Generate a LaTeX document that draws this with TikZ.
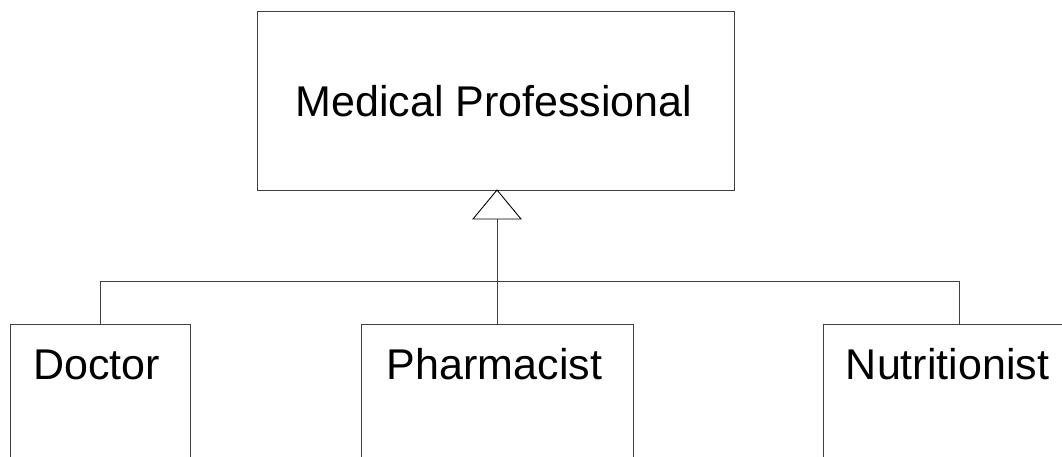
\documentclass[tikz,border=0pt]{standalone}
\usepackage{fontspec}
\setmainfont{Liberation Sans}
\begin{document}
\begin{tikzpicture}[x=1pt,y=-1pt,
  cls/.style={draw=black!75, line width=1pt, inner sep=0pt, anchor=north},
  lbl/.style={font=\fontsize{43}{50}\selectfont, inner sep=0pt, anchor=base},
  link/.style={draw=black!75, line width=1pt},
  gen/.style={draw=black, line width=0.9pt, fill=white, line join=miter}]
\useasboundingbox (0,0) rectangle (1062,457);
\clip (0,0) rectangle (1062,457);

% superclass
\node[cls, minimum width=477pt, minimum height=179pt] (mp) at (495.5,11) {};
\node[lbl] (mptext) at (494,117) {Medical Professional};

% subclasses (their lower parts run past the page)
\node[cls, minimum width=180pt, minimum height=200pt] (doctor) at (100,324) {};
\node[cls, minimum width=272pt, minimum height=200pt] (pharm) at (497,324) {};
\node[cls, minimum width=272pt, minimum height=200pt] (nutri) at (959,324) {};
\node[lbl] (doctortext) at (96.5,379) {Doctor};
\node[lbl] (pharmtext) at (494.5,379) {Pharmacist};
\node[lbl] (nutritext) at (947.5,379) {Nutritionist};

% generalization: shared bus and hollow triangle
\coordinate (apex) at (497,190);
\coordinate (tbase) at (497,219);
\draw[link] (doctor.north) -- ++(0,-43) -| (nutri.north);
\draw[link] (tbase) -- (pharm.north);
\draw[gen] (apex) -- ++(-24,29) -- ++(48,0) -- cycle;
\end{tikzpicture}
\end{document}
